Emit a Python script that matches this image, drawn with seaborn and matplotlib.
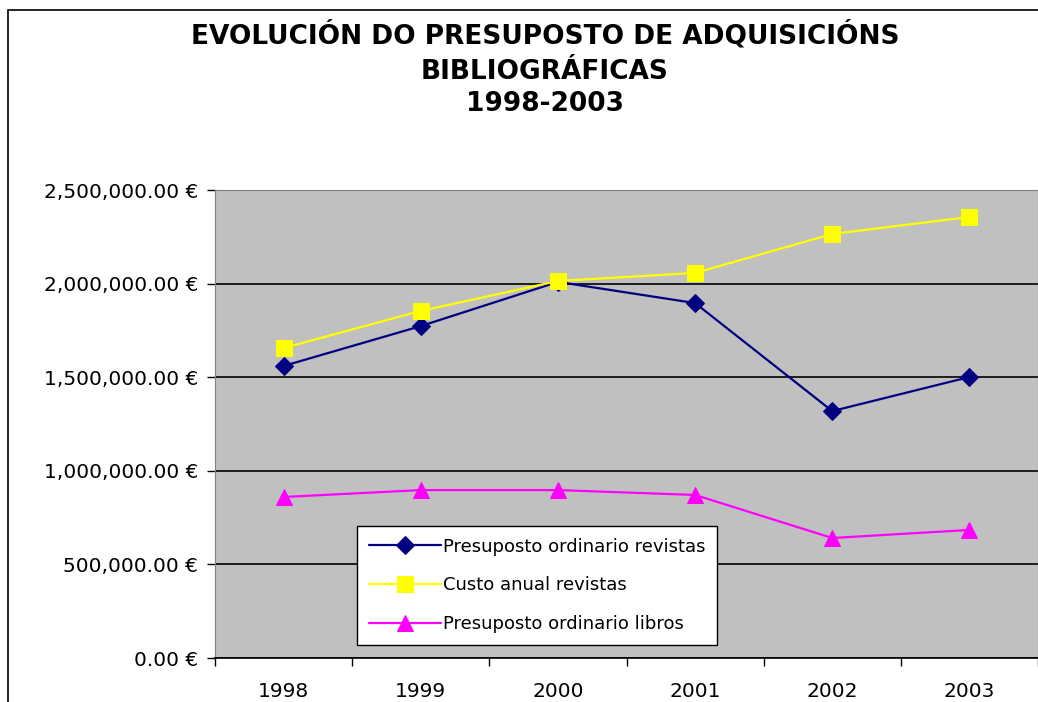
import matplotlib
matplotlib.use("Agg")
import matplotlib.pyplot as plt
import matplotlib.patches as mpatches
from matplotlib.ticker import FuncFormatter, FixedLocator
import seaborn as sns
import pandas as pd

years = ["1998", "1999", "2000", "2001", "2002", "2003"]
presuposto_revistas = [1560000, 1773000, 2009000, 1896000, 1319000, 1501000]
custo_revistas = [1656000, 1854000, 2014000, 2057000, 2265000, 2356000]
presuposto_libros = [860000, 897000, 897000, 871000, 641000, 684000]

series_names = ["Presuposto ordinario revistas", "Custo anual revistas", "Presuposto ordinario libros"]
colors = ["#000080", "#FFFF00", "#FF00FF"]
markers = ["D", "s", "^"]
msizes = [9, 11, 12]

sns.set_style("white")
plt.rcParams['font.family'] = ['DejaVu Sans']
plt.rcParams['text.color'] = 'black'
plt.rcParams['xtick.color'] = 'black'
plt.rcParams['ytick.color'] = 'black'

df = pd.DataFrame({
    "year": years * 3,
    "value": presuposto_revistas + custo_revistas + presuposto_libros,
    "serie": [series_names[0]] * 6 + [series_names[1]] * 6 + [series_names[2]] * 6,
})

fig = plt.figure(figsize=(10.38, 7.02), dpi=100)
ax = fig.add_axes([215/1038, 44/702, 823/1038, 468/702])
ax.set_facecolor("#C0C0C0")

for name, c, m, ms in zip(series_names, colors, markers, msizes):
    sub = df[df["serie"] == name]
    sns.lineplot(data=sub, x="year", y="value", ax=ax, color=c, marker=m,
                 markersize=ms, markeredgecolor=c, linewidth=1.6, label=name,
                 sort=False)

ax.set_xlim(-0.5, 5.5)
ax.set_ylim(0, 2500000)
ax.set_yticks([0, 500000, 1000000, 1500000, 2000000, 2500000])
ax.yaxis.set_major_formatter(FuncFormatter(lambda v, p: f"{v:,.2f} €"))
ax.grid(axis="y", color="black", linewidth=1.2)
ax.set_axisbelow(True)
ax.set_xlabel("")
ax.set_ylabel("")

ax.set_xticks(range(6))
ax.set_xticklabels(years)
ax.xaxis.set_minor_locator(FixedLocator([-0.5, 0.5, 1.5, 2.5, 3.5, 4.5, 5.5]))
ax.tick_params(axis="x", which="major", length=0, pad=17, labelsize=14.5, labelcolor="black")
ax.tick_params(axis="x", which="minor", length=6, width=1, color="black", direction="out", bottom=True)
ax.tick_params(axis="y", length=6, width=1, color="black", direction="out", left=True,
               labelsize=14.5, pad=6, labelcolor="black")

for s in ["top", "right"]:
    ax.spines[s].set_visible(True)
    ax.spines[s].set_color("#808080")
ax.spines["left"].set_color("#808080")
ax.spines["bottom"].set_color("black")
ax.spines["bottom"].set_linewidth(1.2)

leg = ax.legend(loc="lower left", bbox_to_anchor=((357-215)/823, (658-645)/468),
                borderaxespad=0, frameon=True, fancybox=False, edgecolor="black",
                fontsize=13, labelspacing=1.15, handlelength=4.0, handletextpad=0.1,
                borderpad=0.65, framealpha=1)
leg.get_frame().set_linewidth(1.0)
for t in leg.get_texts():
    t.set_color("black")

for txt, yy in [("EVOLUCIÓN DO PRESUPOSTO DE ADQUISICIÓNS", 35),
                ("BIBLIOGRÁFICAS", 72), ("1998-2003", 104)]:
    fig.text(545/1038, 1 - yy/702, txt, ha="center", va="center",
             fontsize=19, fontweight="bold", color="black")

border = mpatches.Rectangle((8/1038, -0.2), 1.2, 1.2 - 10/702, transform=fig.transFigure,
                            fill=False, edgecolor="black", linewidth=1.2)
fig.patches.append(border)

fig.savefig("out.png", dpi=100)
